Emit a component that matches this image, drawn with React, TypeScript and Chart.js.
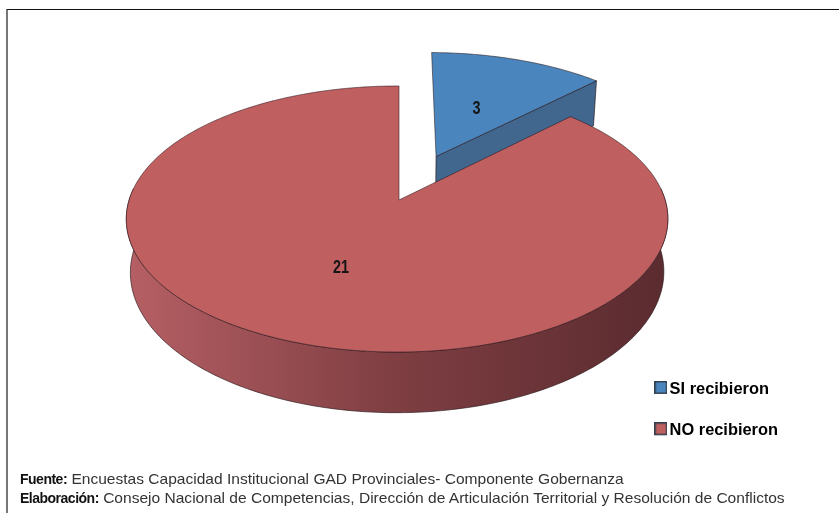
import React, { useEffect, useRef } from "react";
import { Chart, registerables } from "chart.js";

Chart.register(...registerables);

const categories = ["SI recibieron", "NO recibieron"];
const values = [3, 21];
const faceColors = ["#4a86bd", "#c05f60"];
const wallColors = ["#41678f", "#7e3e42"];
const explodeRatios = [0.38, 0];
const labelRadii = [0.46, 0.525];
const sourceLine = "Encuestas Capacidad Institucional GAD Provinciales- Componente Gobernanza";
const authorLine = "Consejo Nacional de Competencias, Dirección de Articulación Territorial y Resolución de Conflictos";

// Oblique projection of the flat pie onto the page
const view = { cx: 399, cy: 200, rx: 268, ry: 130.3, k: 1 / 7, m: 0.007, depth: 52, shrink: 0.985 };

function project(u: number, v: number, low = false) {
  const w = 1 - view.k * v + view.m * u;
  const s = low ? view.shrink : 1;
  return {
    x: view.cx + (view.rx * u * s) / w,
    y: view.cy + (view.ry * v) / w + (low ? view.depth / w : 0),
  };
}

function swatch(color: string) {
  const c = document.createElement("canvas");
  c.width = 13;
  c.height = 17;
  const g = c.getContext("2d")!;
  g.fillStyle = "#33414f";
  g.fillRect(0, 0, 13, 13);
  g.fillStyle = color;
  g.fillRect(1.5, 1.5, 10, 10);
  return c;
}

const pie3d = {
  id: "pie3d",
  beforeDatasetDraw(chart: any) {
    const ctx = chart.ctx as CanvasRenderingContext2D;
    const arcs = chart.getDatasetMeta(0).data;
    arcs.forEach((arc: any, i: number) => {
      const { startAngle, endAngle } = arc.getProps(["startAngle", "endAngle"], true);
      const mid = (startAngle + endAngle) / 2;
      const u0 = Math.cos(mid) * explodeRatios[i];
      const v0 = Math.sin(mid) * explodeRatios[i];
      const rim: [number, number][] = [];
      const front: [number, number][] = [];
      const steps = Math.ceil(((endAngle - startAngle) * 180) / Math.PI);
      for (let s = 0; s <= steps; s++) {
        const a = startAngle + ((endAngle - startAngle) * s) / steps;
        const pt: [number, number] = [u0 + Math.cos(a), v0 + Math.sin(a)];
        rim.push(pt);
        if (Math.sin(a) > -0.1) front.push(pt);
      }
      ctx.save();
      ctx.lineJoin = "round";
      ctx.lineWidth = 1;
      ctx.strokeStyle = "rgba(40,20,25,0.65)";
      // outer wall: only the part of the rim that faces the viewer
      if (front.length > 1) {
        const g = ctx.createLinearGradient(view.cx - view.rx, 0, view.cx + view.rx, 0);
        g.addColorStop(0, "#b55f64");
        g.addColorStop(0.5, wallColors[i]);
        g.addColorStop(1, "#5a2b2f");
        ctx.fillStyle = g;
        ctx.beginPath();
        front.forEach(([u, v], n) => {
          const p = project(u, v);
          n ? ctx.lineTo(p.x, p.y) : ctx.moveTo(p.x, p.y);
        });
        [...front].reverse().forEach(([u, v]) => {
          const p = project(u, v, true);
          ctx.lineTo(p.x, p.y);
        });
        ctx.closePath();
        ctx.fill();
        ctx.stroke();
      }
      // radial wall at the slice's end (the one that faces the viewer)
      const a0 = project(u0, v0);
      const a1 = project(u0, v0, true);
      const last = rim[rim.length - 1];
      const p0 = project(last[0], last[1]);
      const p1 = project(last[0], last[1], true);
      if (i === 0) {
        ctx.beginPath();
        ctx.moveTo(a0.x, a0.y);
        ctx.lineTo(p0.x, p0.y);
        ctx.lineTo(p1.x, p1.y);
        ctx.lineTo(a1.x, a1.y);
        ctx.closePath();
        ctx.fillStyle = wallColors[i];
        ctx.fill();
        ctx.stroke();
      }
      ctx.restore();
    });
    // faces on top of all the walls, the big slice last
    arcs.forEach((arc: any, i: number) => {
      const { startAngle, endAngle } = arc.getProps(["startAngle", "endAngle"], true);
      const mid = (startAngle + endAngle) / 2;
      const u0 = Math.cos(mid) * explodeRatios[i];
      const v0 = Math.sin(mid) * explodeRatios[i];
      ctx.save();
      ctx.beginPath();
      const a = project(u0, v0);
      ctx.moveTo(a.x, a.y);
      const steps = Math.ceil(((endAngle - startAngle) * 180) / Math.PI);
      for (let s = 0; s <= steps; s++) {
        const t = startAngle + ((endAngle - startAngle) * s) / steps;
        const p = project(u0 + Math.cos(t), v0 + Math.sin(t));
        ctx.lineTo(p.x, p.y);
      }
      ctx.closePath();
      ctx.fillStyle = faceColors[i];
      ctx.fill();
      ctx.lineWidth = 1;
      ctx.strokeStyle = "rgba(40,20,25,0.55)";
      ctx.stroke();
      const lp = project(u0 + Math.cos(mid) * labelRadii[i], v0 + Math.sin(mid) * labelRadii[i]);
      ctx.translate(lp.x, lp.y);
      ctx.scale(0.8, 1);
      ctx.fillStyle = "#151515";
      ctx.font = 'bold 18px "Liberation Sans"';
      ctx.textAlign = "center";
      ctx.textBaseline = "middle";
      ctx.fillText(String(values[i]), 0, 0);
      ctx.restore();
    });
    return false;
  },
};

export default function App() {
  const ref = useRef<HTMLCanvasElement>(null);
  useEffect(() => {
    const chart = new Chart(ref.current!, {
      type: "pie",
      data: {
        labels: categories,
        datasets: [{ data: values, backgroundColor: faceColors, borderWidth: 0 }],
      },
      options: {
        responsive: false,
        animation: false,
        layout: { padding: { right: 51, bottom: 49, top: 0, left: 0 } },
        plugins: {
          tooltip: { enabled: false },
          legend: {
            position: "right",
            align: "end",
            labels: {
              usePointStyle: true,
              pointStyleWidth: 1,
              padding: 25,
              color: "#262c36",
              font: { family: '"Liberation Sans"', size: 16.4, weight: "bold" },
              generateLabels: () =>
                categories.map((text, i) => ({
                  text,
                  fillStyle: faceColors[i],
                  strokeStyle: faceColors[i],
                  lineWidth: 0,
                  pointStyle: swatch(faceColors[i]),
                  index: i,
                  hidden: false,
                })),
            },
          },
        },
      } as any,
      plugins: [pie3d as any],
    });
    return () => chart.destroy();
  }, []);
  const bold = { font: 'bold 14px "Liberation Sans"', letterSpacing: "-0.5px", color: "#111" };
  return (
    <div style={{ position: "absolute", left: 0, top: 0, width: 839, height: 513, background: "#fff", overflow: "hidden" }}>
      <canvas ref={ref} width={839} height={513} style={{ position: "absolute", left: 0, top: 0, display: "block" }} />
      <div
        style={{
          position: "absolute",
          left: 6,
          top: 9,
          width: 833,
          height: 504,
          boxSizing: "border-box",
          borderTop: "1.5px solid #111",
          borderLeft: "2px solid #777",
        }}
      />
      <div
        style={{
          position: "absolute",
          left: 20,
          top: 469,
          font: '15.55px/19px "Liberation Sans"',
          color: "#333",
          whiteSpace: "nowrap",
        }}
      >
        <div><span style={bold}>Fuente:</span> {sourceLine}</div>
        <div><span style={bold}>Elaboración:</span> {authorLine}</div>
      </div>
    </div>
  );
}
